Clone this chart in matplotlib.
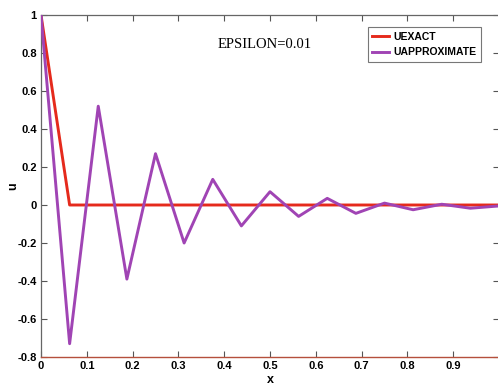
import matplotlib
matplotlib.use("Agg")
import matplotlib.pyplot as plt
import numpy as np

# Data
x_nodes = [i / 16 for i in range(17)]
u_exact = [1.0] + [0.0] * 16
u_approx = [1.0, -0.73, 0.52, -0.39, 0.27, -0.20, 0.135, -0.11, 0.07,
            -0.06, 0.035, -0.044, 0.01, -0.025, 0.004, -0.017, -0.005]
xticks = [0, 0.1, 0.2, 0.3, 0.4, 0.5, 0.6, 0.7, 0.8, 0.9]
xticklabels = ["0", "0.1", "0.2", "0.3", "0.4", "0.5", "0.6", "0.7", "0.8", "0.9"]
yticks = [-0.8, -0.6, -0.4, -0.2, 0, 0.2, 0.4, 0.6, 0.8, 1]
yticklabels = ["-0.8", "-0.6", "-0.4", "-0.2", "0", "0.2", "0.4", "0.6", "0.8", "1"]

tick_font = ["Liberation Sans Narrow", "Liberation Sans", "DejaVu Sans"]

fig = plt.figure(figsize=(4.98, 3.87), dpi=100)
ax = fig.add_axes([41 / 498, 30 / 387, 458 / 498, 342 / 387])

red = "#e52a1c"
purple = "#a044b4"
ax.plot(x_nodes, u_exact, color=red, lw=2.1, label="UEXACT", zorder=2)
ax.plot(x_nodes, u_approx, color=purple, lw=2.1, label="UAPPROXIMATE", zorder=3)

ax.set_xlim(0, 1)
ax.set_ylim(-0.8, 1)
ax.set_xticks(xticks)
ax.set_xticklabels(xticklabels, family=tick_font, fontweight="bold", fontsize=8)
ax.set_yticks(yticks)
ax.set_yticklabels(yticklabels, family=tick_font, fontweight="bold", fontsize=8)
ax.tick_params(direction="in", top=True, right=True, length=4, width=0.8,
               color="#555555", pad=3)
for s in ["left", "top", "right"]:
    ax.spines[s].set_color("#666666")
    ax.spines[s].set_linewidth(0.9)
ax.spines["bottom"].set_color("#b5503c")
ax.spines["bottom"].set_linewidth(1.0)

ax.set_xlabel("x", family=tick_font, fontweight="bold", fontsize=9, labelpad=2)
ax.set_ylabel("u", family=tick_font, fontweight="bold", fontsize=9, labelpad=-1)

ax.text((265 - 41) / 458, (357 - 38) / 342, "EPSILON=0.01", transform=ax.transAxes,
        family=["Liberation Serif", "DejaVu Serif"], fontsize=10.5,
        ha="center", va="top")

leg = ax.legend(loc="upper right", bbox_to_anchor=((481 - 41) / 458, (357 - 27) / 342),
                borderaxespad=0,
                prop={"family": tick_font, "weight": "bold", "size": 7.5},
                handlelength=1.6, handletextpad=0.4, borderpad=0.45,
                labelspacing=0.55, fancybox=False, framealpha=1,
                edgecolor="#777777")
leg.get_frame().set_linewidth(0.8)

fig.savefig("out.png", dpi=100)
